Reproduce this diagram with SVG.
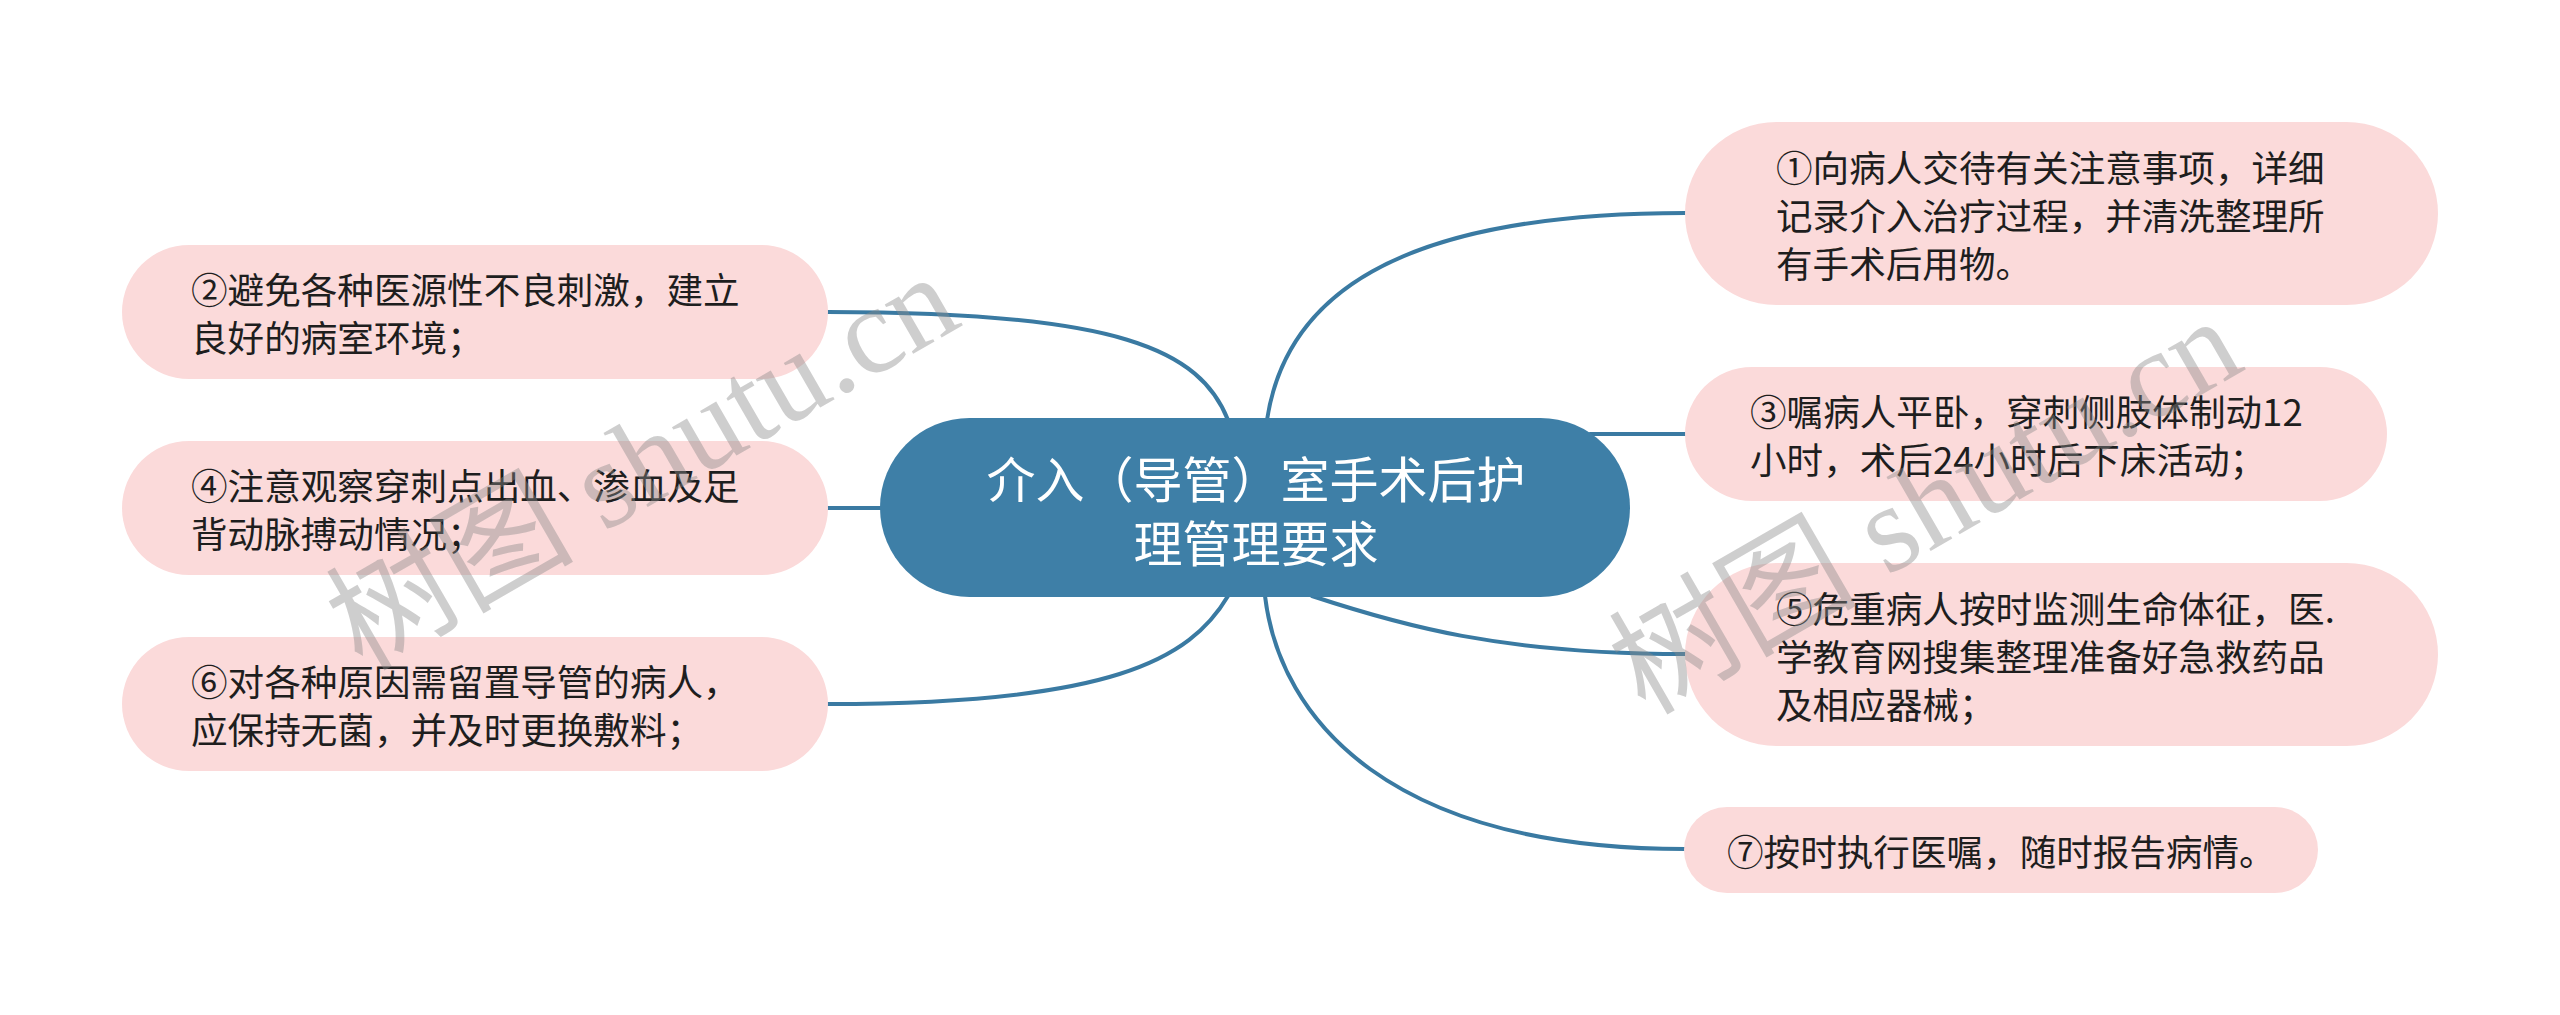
<svg xmlns="http://www.w3.org/2000/svg" width="2560" height="1015" viewBox="0 0 2560 1015">
<style>
.bg{fill:#ffffff}
.link{fill:none;stroke:#3a7aa2;stroke-width:4;stroke-linecap:round}
.root rect{fill:#3e7fa7}
.root text{fill:#ffffff;font-family:"Noto Sans CJK SC","Noto Sans",sans-serif;font-size:49px;text-anchor:middle;dominant-baseline:central}
.leaf rect{fill:#fbdada}
.leaf text{fill:#1e1e1e;font-family:"Noto Sans CJK SC","Noto Sans",sans-serif;font-size:36.6px;dominant-baseline:central}
.wm{fill:#8a8a8a;fill-opacity:0.42;font-family:"Liberation Serif","Noto Sans CJK SC",serif;font-size:124px}
</style>
<rect class="bg" x="0" y="0" width="2560" height="1015"/>
<g id="connectors">
<path class="link" d="M1267,420 C1285,300 1390,213 1685,213"/>
<path class="link" d="M1228,420 C1200,350 1120,312 828,312"/>
<path class="link" d="M1590,434 L1685,434"/>
<path class="link" d="M882,508 L828,508"/>
<path class="link" d="M1312,596 C1400,625 1500,654 1685,654"/>
<path class="link" d="M1228,596 C1190,660 1110,704 828,704"/>
<path class="link" d="M1265,596 C1280,720 1390,849 1685,849"/>
</g>
<g id="root" class="root">
<rect x="880" y="418" width="750" height="179" rx="89.5"/>
<text x="1256" y="476">介入（导管）室手术后护</text>
<text x="1256" y="540">理管理要求</text>
</g>
<g id="n1" class="leaf">
<rect x="1685" y="122" width="753" height="183" rx="91.5"/>
<text x="1776" y="166">①向病人交待有关注意事项，详细</text>
<text x="1776" y="214">记录介入治疗过程，并清洗整理所</text>
<text x="1776" y="262">有手术后用物。</text>
</g>
<g id="n2" class="leaf">
<rect x="122" y="245" width="706" height="134" rx="67"/>
<text x="191" y="288">②避免各种医源性不良刺激，建立</text>
<text x="191" y="336">良好的病室环境；</text>
</g>
<g id="n3" class="leaf">
<rect x="1685" y="367" width="702" height="134" rx="67"/>
<text x="1750" y="410">③嘱病人平卧，穿刺侧肢体制动12</text>
<text x="1750" y="458">小时，术后24小时后下床活动；</text>
</g>
<g id="n4" class="leaf">
<rect x="122" y="441" width="706" height="134" rx="67"/>
<text x="191" y="484">④注意观察穿刺点出血、渗血及足</text>
<text x="191" y="532">背动脉搏动情况；</text>
</g>
<g id="n5" class="leaf">
<rect x="1685" y="563" width="753" height="183" rx="91.5"/>
<text x="1776" y="607">⑤危重病人按时监测生命体征，医.</text>
<text x="1776" y="655">学教育网搜集整理准备好急救药品</text>
<text x="1776" y="703">及相应器械；</text>
</g>
<g id="n6" class="leaf">
<rect x="122" y="637" width="706" height="134" rx="67"/>
<text x="191" y="680">⑥对各种原因需留置导管的病人，</text>
<text x="191" y="728">应保持无菌，并及时更换敷料；</text>
</g>
<g id="n7" class="leaf">
<rect x="1684" y="807" width="634" height="86" rx="43"/>
<text x="1727" y="850">⑦按时执行医嘱，随时报告病情。</text>
</g>
<g id="watermarks">
<text class="wm" x="362" y="672" transform="rotate(-30 362 672)">树图 shutu.cn</text>
<text class="wm" x="1645" y="716" transform="rotate(-30 1645 716)">树图 shutu.cn</text>
</g>
</svg>
